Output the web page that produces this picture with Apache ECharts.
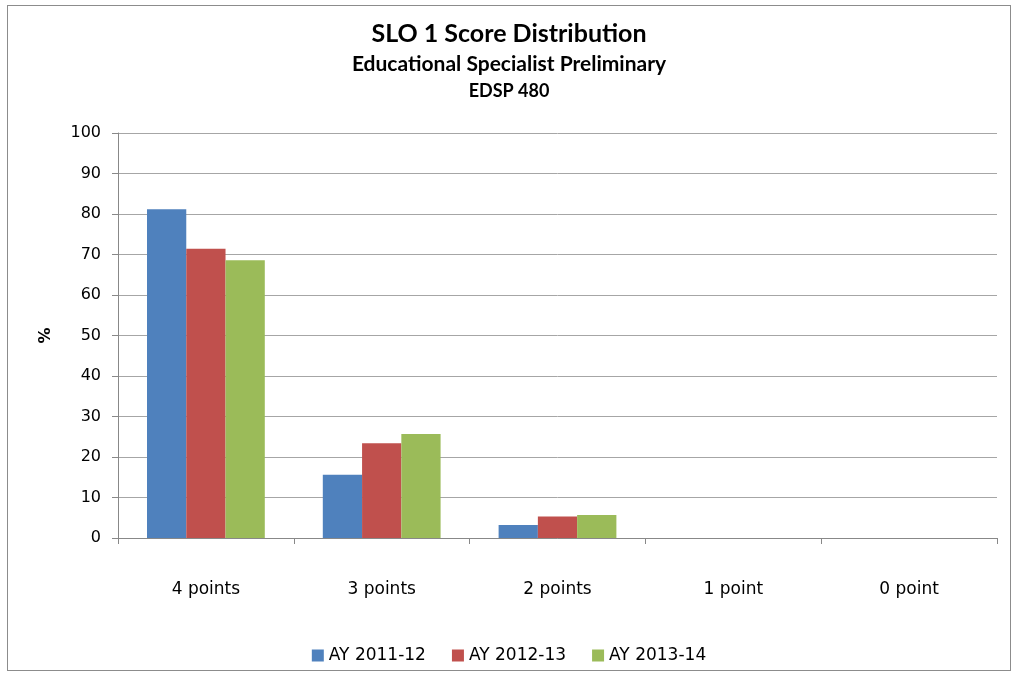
<!DOCTYPE html>
<html>
<head>
<meta charset="utf-8">
<script src="https://cdn.jsdelivr.net/npm/echarts@6/dist/echarts.min.js"></script>
<style>
    html, body {margin: 0; padding: 0; background: #fff;}
    #frame {position: absolute; left: 7px; top: 5px; width: 1002px; height: 664px; border: 1px solid #8c8c8c;}
    #main {position: absolute; left: 0; top: 0; width: 1018px; height: 675px;}
</style>
</head>
<body>
<div id="frame"></div>
<div id="main"></div>
<script>
    // data
    const categories = ['4 points', '3 points', '2 points', '1 point', '0 point'];
    const seriesNames = ['AY 2011-12', 'AY 2012-13', 'AY 2013-14'];
    const ay1112 = [81.2, 15.6, 3.2, 0, 0];
    const ay1213 = [71.4, 23.4, 5.3, 0, 0];
    const ay1314 = [68.6, 25.7, 5.7, 0, 0];
    const colors = ['#4F81BD', '#C0504D', '#9BBB59'];

    const font = 'DejaVu Sans';
    const titleFont = 'Lato';

    let myChart = echarts.init(document.getElementById('main'));
    let option = {
        animation: false,
        title: [
            {text: 'SLO 1 Score Distribution', left: 'center', top: 16,
             textStyle: {fontFamily: titleFont, fontSize: 25, fontWeight: 'bold', color: '#000'}},
            {text: 'Educational Specialist Preliminary', left: 'center', top: 49,
             textStyle: {fontFamily: titleFont, fontSize: 21, fontWeight: 'bold', color: '#000'}},
            {text: 'EDSP 480', left: 'center', top: 77,
             textStyle: {fontFamily: titleFont, fontSize: 18, fontWeight: 'bold', color: '#000'}}
        ],
        legend: {
            bottom: 6,
            left: 'center',
            itemWidth: 12,
            itemHeight: 12,
            itemGap: 26,
            icon: 'rect',
            textStyle: {fontFamily: font, fontSize: 17, color: '#000'},
            data: seriesNames
        },
        grid: {left: 118, right: 21, top: 133, bottom: 137},
        xAxis: {
            type: 'category',
            data: categories,
            axisLine: {lineStyle: {color: '#888'}},
            axisTick: {show: true, length: 6, lineStyle: {color: '#888'}},
            axisLabel: {fontFamily: font, fontSize: 17, color: '#000', margin: 43}
        },
        yAxis: {
            type: 'value',
            min: 0,
            max: 100,
            interval: 10,
            name: '%',
            nameLocation: 'middle',
            nameGap: 64,
            nameRotate: 90,
            nameTextStyle: {fontFamily: font, fontSize: 16, fontWeight: 'bold', color: '#000'},
            axisLine: {show: true, lineStyle: {color: '#888'}},
            axisTick: {show: true, length: 6, inside: false, lineStyle: {color: '#888'}},
            axisLabel: {fontFamily: font, fontSize: 16, color: '#000', margin: 17},
            splitLine: {lineStyle: {color: '#a6a6a6'}}
        },
        series: [
            {name: seriesNames[0], type: 'bar', data: ay1112, itemStyle: {color: colors[0]}, barGap: '0%', barCategoryGap: '33%'},
            {name: seriesNames[1], type: 'bar', data: ay1213, itemStyle: {color: colors[1]}},
            {name: seriesNames[2], type: 'bar', data: ay1314, itemStyle: {color: colors[2]}}
        ]
    };
    myChart.setOption(option);
</script>
</body>
</html>
